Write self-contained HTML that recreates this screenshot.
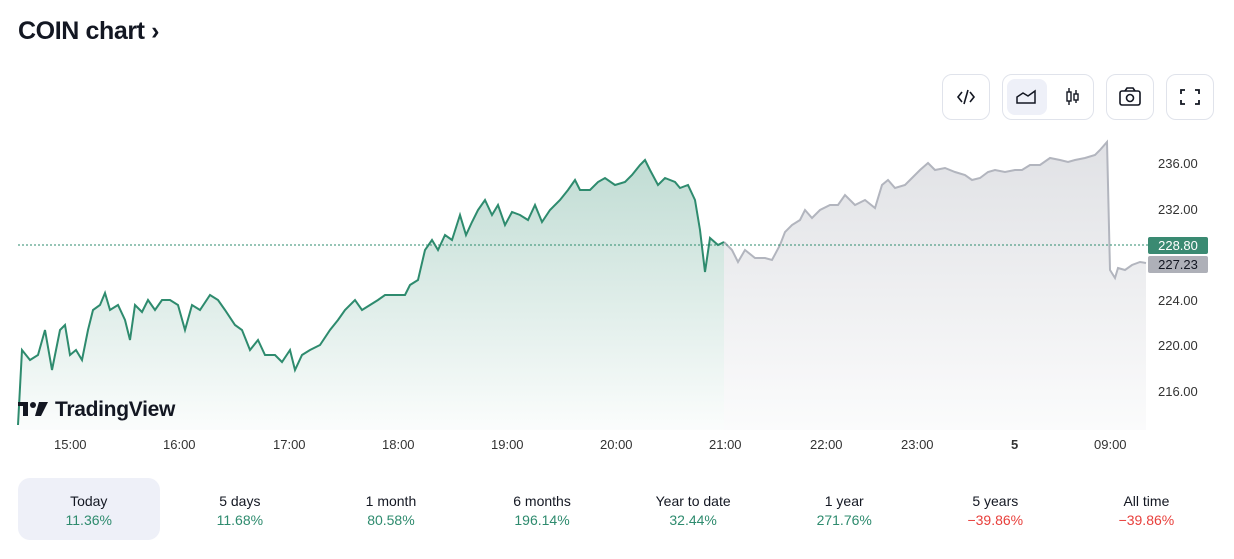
<!DOCTYPE html>
<html><head><meta charset="utf-8"><style>
body{margin:0;width:1234px;height:559px;background:#fff;font-family:"Liberation Sans",sans-serif;overflow:hidden;position:relative;color:#131722}
.t{position:absolute;left:18px;top:17px;font-size:25px;font-weight:bold;letter-spacing:-0.4px}
.btn{position:absolute;top:74px;height:46px;border:1px solid #e0e3eb;border-radius:10px;box-sizing:border-box}
.tabs{position:absolute;top:478px;left:18px;display:flex}
.tab{width:141.5px;height:62px;text-align:center;font-size:14px;box-sizing:border-box;padding-top:14px;line-height:19px;border-radius:12px;margin-right:9.6px}
.g{color:#2e8b6e}.r{color:#e8403c}
.xl{position:absolute;top:437px;font-size:13px;color:#333}
.yl{position:absolute;left:1158px;font-size:13px;color:#333}
</style></head><body>
<div class="t">COIN chart ›</div>
<div class="btn" style="left:942px;width:48px"><svg width="46" height="44"><path d="M19 17l-4 5 4 5M27 17l4 5-4 5M25 15l-4 14" stroke="#131722" stroke-width="1.6" fill="none"/></svg></div>
<div class="btn" style="left:1002px;width:92px"><div style="position:absolute;left:4px;top:4px;width:40px;height:36px;background:#eef0f8;border-radius:8px"></div><svg width="90" height="44" style="position:absolute;left:0;top:0"><path d="M14 28v-6l6-4 5 3 7-5v12z" stroke="#131722" stroke-width="1.5" fill="none"/><rect x="64" y="17" width="4" height="9" stroke="#131722" fill="none" stroke-width="1.4"/><rect x="71" y="19" width="4" height="6" stroke="#131722" fill="none" stroke-width="1.4"/><path d="M66 13v4M66 26v4M73 15v4M73 25v3" stroke="#131722" stroke-width="1.4"/></svg></div>
<div class="btn" style="left:1106px;width:48px"><svg width="46" height="44"><rect x="13" y="16" width="20" height="14" rx="2" stroke="#131722" fill="none" stroke-width="1.6"/><path d="M18 16l2-3h6l2 3" stroke="#131722" fill="none" stroke-width="1.6"/><circle cx="23" cy="23" r="3.5" stroke="#131722" fill="none" stroke-width="1.6"/></svg></div>
<div class="btn" style="left:1166px;width:48px"><svg width="46" height="44"><path d="M14 19v-4h4M28 15h4v4M32 25v4h-4M18 29h-4v-4" stroke="#131722" fill="none" stroke-width="1.8"/></svg></div>
<svg width="1234" height="559" style="position:absolute;left:0;top:0">
<defs><linearGradient id="gg" x1="0" y1="0" x2="0" y2="1"><stop offset="0" stop-color="#2e8b6e" stop-opacity=".3"/><stop offset="1" stop-color="#2e8b6e" stop-opacity=".02"/></linearGradient>
<linearGradient id="gr" x1="0" y1="0" x2="0" y2="1"><stop offset="0" stop-color="#b2b5be" stop-opacity=".4"/><stop offset="1" stop-color="#b2b5be" stop-opacity=".05"/></linearGradient></defs>
<path id="gp" d="M18,425 L22,350 L30,360 L38,355 L45,330 L52,370 L60,330 L65,325 L70,355 L76,350 L82,360 L88,330 L93,310 L100,305 L105,293 L110,310 L118,305 L125,320 L130,340 L135,305 L142,312 L148,300 L155,310 L162,300 L170,300 L178,305 L185,330 L192,305 L200,310 L210,295 L218,300 L225,310 L235,325 L242,330 L250,350 L258,340 L265,355 L275,355 L282,362 L290,350 L295,370 L302,355 L310,350 L320,345 L330,330 L338,320 L345,310 L355,300 L362,310 L370,305 L378,300 L385,295 L395,295 L405,295 L410,285 L418,280 L425,250 L432,240 L438,250 L445,235 L452,240 L460,215 L466,235 L472,222 L478,210 L485,200 L492,215 L498,205 L505,225 L512,212 L520,215 L528,220 L535,205 L542,222 L550,210 L560,200 L568,190 L575,180 L580,190 L590,190 L598,182 L605,178 L615,185 L625,182 L632,175 L640,165 L645,160 L650,170 L658,185 L665,178 L675,182 L680,188 L688,185 L695,200 L700,230 L705,272 L710,238 L718,245 L724,242" fill="none"/>
<path d="M18,425 L22,350 L30,360 L38,355 L45,330 L52,370 L60,330 L65,325 L70,355 L76,350 L82,360 L88,330 L93,310 L100,305 L105,293 L110,310 L118,305 L125,320 L130,340 L135,305 L142,312 L148,300 L155,310 L162,300 L170,300 L178,305 L185,330 L192,305 L200,310 L210,295 L218,300 L225,310 L235,325 L242,330 L250,350 L258,340 L265,355 L275,355 L282,362 L290,350 L295,370 L302,355 L310,350 L320,345 L330,330 L338,320 L345,310 L355,300 L362,310 L370,305 L378,300 L385,295 L395,295 L405,295 L410,285 L418,280 L425,250 L432,240 L438,250 L445,235 L452,240 L460,215 L466,235 L472,222 L478,210 L485,200 L492,215 L498,205 L505,225 L512,212 L520,215 L528,220 L535,205 L542,222 L550,210 L560,200 L568,190 L575,180 L580,190 L590,190 L598,182 L605,178 L615,185 L625,182 L632,175 L640,165 L645,160 L650,170 L658,185 L665,178 L675,182 L680,188 L688,185 L695,200 L700,230 L705,272 L710,238 L718,245 L724,242 L724,430 L18,430Z" fill="url(#gg)"/>
<path d="M724,242 L732,250 L738,262 L745,250 L755,258 L765,258 L772,260 L780,245 L785,232 L792,225 L800,220 L805,210 L812,218 L820,210 L830,205 L838,205 L845,195 L855,205 L865,200 L875,208 L882,185 L888,180 L895,188 L905,185 L912,178 L920,170 L928,163 L935,170 L945,168 L955,172 L965,175 L972,180 L980,178 L988,172 L995,170 L1005,172 L1015,170 L1022,170 L1030,165 L1040,165 L1050,158 L1060,160 L1068,162 L1075,160 L1085,158 L1095,155 L1100,150 L1107,142 L1110,270 L1115,278 L1118,268 L1125,270 L1132,265 L1140,262 L1146,263 L1146,430 L724,430Z" fill="url(#gr)"/>
<path d="M724,242 L732,250 L738,262 L745,250 L755,258 L765,258 L772,260 L780,245 L785,232 L792,225 L800,220 L805,210 L812,218 L820,210 L830,205 L838,205 L845,195 L855,205 L865,200 L875,208 L882,185 L888,180 L895,188 L905,185 L912,178 L920,170 L928,163 L935,170 L945,168 L955,172 L965,175 L972,180 L980,178 L988,172 L995,170 L1005,172 L1015,170 L1022,170 L1030,165 L1040,165 L1050,158 L1060,160 L1068,162 L1075,160 L1085,158 L1095,155 L1100,150 L1107,142 L1110,270 L1115,278 L1118,268 L1125,270 L1132,265 L1140,262 L1146,263" fill="none" stroke="#b2b5be" stroke-width="2"/>
<use href="#gp" stroke="#2e8b6e" stroke-width="2"/>
<line x1="18" y1="245" x2="1148" y2="245" stroke="#2e8b6e" stroke-dasharray="2,2"/>
<rect x="1148" y="237" width="60" height="17" rx="2" fill="#3a8a72"/>
<text x="1178" y="250" fill="#fff" font-size="13" text-anchor="middle" font-family="Liberation Sans">228.80</text>
<rect x="1148" y="256" width="60" height="17" rx="2" fill="#aeb0b8"/>
<text x="1178" y="269" fill="#131722" font-size="13" text-anchor="middle" font-family="Liberation Sans">227.23</text>
<g fill="#131722"><rect x="18" y="402" width="10" height="4"/><rect x="23" y="402" width="5" height="14"/><circle cx="33" cy="405" r="3"/><path d="M39 402h9l-7 14h-6z"/></g>
<text x="55" y="416" font-size="21" font-weight="bold" fill="#131722" font-family="Liberation Sans" letter-spacing="-0.3">TradingView</text>
</svg>
<div class="yl" style="top:156px">236.00</div>
<div class="yl" style="top:202px">232.00</div>
<div class="yl" style="top:293px">224.00</div>
<div class="yl" style="top:338px">220.00</div>
<div class="yl" style="top:384px">216.00</div>
<div class="xl" style="left:54px">15:00</div>
<div class="xl" style="left:163px">16:00</div>
<div class="xl" style="left:273px">17:00</div>
<div class="xl" style="left:382px">18:00</div>
<div class="xl" style="left:491px">19:00</div>
<div class="xl" style="left:600px">20:00</div>
<div class="xl" style="left:709px">21:00</div>
<div class="xl" style="left:810px">22:00</div>
<div class="xl" style="left:901px">23:00</div>
<div class="xl" style="left:1011px;font-weight:bold">5</div>
<div class="xl" style="left:1094px">09:00</div>
<div class="tabs">
<div class="tab" style="background:#eef0f8">Today<br><span class="g">11.36%</span></div>
<div class="tab">5 days<br><span class="g">11.68%</span></div>
<div class="tab">1 month<br><span class="g">80.58%</span></div>
<div class="tab">6 months<br><span class="g">196.14%</span></div>
<div class="tab">Year to date<br><span class="g">32.44%</span></div>
<div class="tab">1 year<br><span class="g">271.76%</span></div>
<div class="tab">5 years<br><span class="r">−39.86%</span></div>
<div class="tab">All time<br><span class="r">−39.86%</span></div>
</div>
</body></html>
